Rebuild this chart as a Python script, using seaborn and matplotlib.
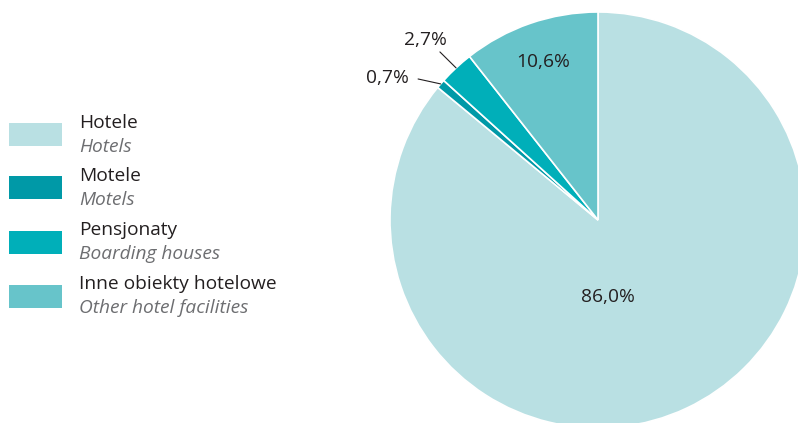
import matplotlib.pyplot as plt
import seaborn as sns
import numpy as np
from matplotlib.patches import Rectangle

categories_pl = ['Hotele', 'Motele', 'Pensjonaty', 'Inne obiekty hotelowe']
categories_en = ['Hotels', 'Motels', 'Boarding houses', 'Other hotel facilities']
shares = [86.0, 0.7, 2.7, 10.6]
colors = ['#b9e0e3', '#0099a7', '#00afb9', '#67c4ca']

sns.set_theme(style='white')
plt.rcParams['font.family'] = ['Open Sans', 'DejaVu Sans']

TXT = '#231f20'
GREY = '#6d6e71'

fig = plt.figure(figsize=(7.98, 4.23), dpi=100)

# pie axes: centre (598, 220) px, radius 208 px
cx, cy, r = 598, 220, 208
ax = fig.add_axes([(cx - r) / 798, (423 - cy - r) / 423, 2 * r / 798, 2 * r / 423])
wedges, _ = ax.pie(shares, colors=colors, startangle=90, counterclock=False,
                   wedgeprops=dict(edgecolor='white', linewidth=1.2))
ax.set_xlim(-1, 1)
ax.set_ylim(-1, 1)
ax.set_aspect('auto')
ax.axis('off')

def fmt(v):
    return f'{v:.1f}'.replace('.', ',') + '%'

# label placement (data coords of the text)
label_pos = [(0.05, -0.37), (-1.01, 0.685), (-0.83, 0.865), (-0.265, 0.76)]
for w, v, (tx, ty) in zip(wedges, shares, label_pos):
    ax.text(tx, ty, fmt(v), ha='center', va='center', fontsize=13.8, color=TXT)

# leader lines for the small slices
line_ends = [None, (-0.865, 0.678), (-0.76, 0.808), None]
for w, end in zip(wedges, line_ends):
    if end is None:
        continue
    mid = np.deg2rad((w.theta1 + w.theta2) / 2)
    ax.plot([np.cos(mid), end[0]], [np.sin(mid), end[1]], color=TXT, lw=0.8,
            clip_on=False)

# legend drawn by hand (two-line bilingual labels)
row_y = [135, 188, 242, 296]
for y, c, pl, en in zip(row_y, colors, categories_pl, categories_en):
    fig.add_artist(Rectangle((9 / 798, 1 - (y + 11.5) / 423), 53 / 798, 23 / 423,
                             facecolor=c, edgecolor='none', transform=fig.transFigure))
    fig.text(79 / 798, 1 - (y - 12) / 423, pl, ha='left', va='center',
             fontsize=13.8, color=TXT)
    fig.text(79 / 798, 1 - (y + 12) / 423, en, ha='left', va='center',
             fontsize=13.8, color=GREY, style='italic')

fig.savefig('out.png', dpi=100)
